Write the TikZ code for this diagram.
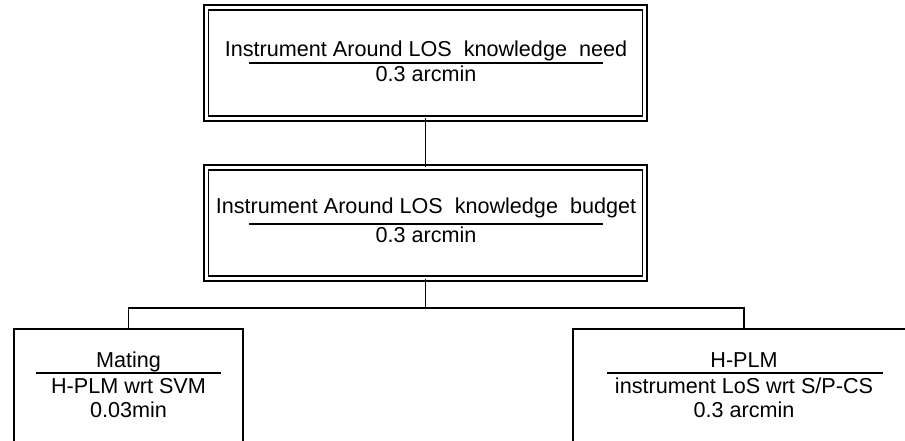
\documentclass[tikz,border=0pt]{standalone}
\usepackage{fontspec}
\setmainfont{Liberation Sans}
\begin{document}
\begin{tikzpicture}[x=1pt,y=-1pt,
  dbox/.style={draw, double, double distance=3.4pt, line width=1.5pt, outer sep=0pt, inner sep=0pt, minimum width=438.5pt, minimum height=111pt},
  sbox/.style={draw, line width=1.6pt, outer sep=0pt, inner sep=0pt, anchor=north west},
  txt/.style={anchor=base, inner sep=0pt, font=\fontsize{21.6}{25}\selectfont},
  uline/.style={line width=1.4pt},
  conn/.style={line width=1.3pt}]
\clip (0,0) rectangle (905,441);
% boxes
\node[dbox] (top) at (425.5,63) {};
\node[dbox] (mid) at (425.5,223) {};
\node[sbox, minimum width=229pt, minimum height=160pt] (left) at (14,329) {};
\node[sbox, minimum width=342pt, minimum height=160pt] (right) at (573,329) {};
% texts top
\node[txt] (t1) at (426,57) {Instrument Around LOS\ \ knowledge\ \ need};
\coordinate (u1a) at (249,63); \coordinate (u1b) at (603,63);
\draw[uline] (u1a) -- (u1b);
\node[txt] (t2) at (426,82) {0.3 arcmin};
% texts mid
\node[txt] (m1) at (426,213) {Instrument Around LOS\ \ knowledge\ \ budget};
\coordinate (u2a) at (249,224); \coordinate (u2b) at (603,224);
\draw[uline] (u2a) -- (u2b);
\node[txt] (m2) at (426,242) {0.3 arcmin};
% left texts
\node[txt] (l1) at (128.5,367) {Mating};
\coordinate (u3a) at (36,373); \coordinate (u3b) at (221,373);
\draw[uline] (u3a) -- (u3b);
\node[txt] (l2) at (128.5,393) {H-PLM wrt SVM};
\node[txt] (l3) at (128.5,417) {0.03min};
% right texts
\node[txt] (r1) at (744,367) {H-PLM};
\coordinate (u4a) at (607,373); \coordinate (u4b) at (883,373);
\draw[uline] (u4a) -- (u4b);
\node[txt] (r2) at (744,393) {instrument LoS wrt S/P-CS};
\node[txt] (r3) at (744,417) {0.3 arcmin};
% connectors
\draw[conn] (top.south) -- (mid.north);
\coordinate (junc) at (425.5,308);
\draw[conn] (mid.south) -- (junc);
\draw[conn] (junc) -| (left.north);
\draw[conn] (junc) -| (right.north);
\end{tikzpicture}
\end{document}
